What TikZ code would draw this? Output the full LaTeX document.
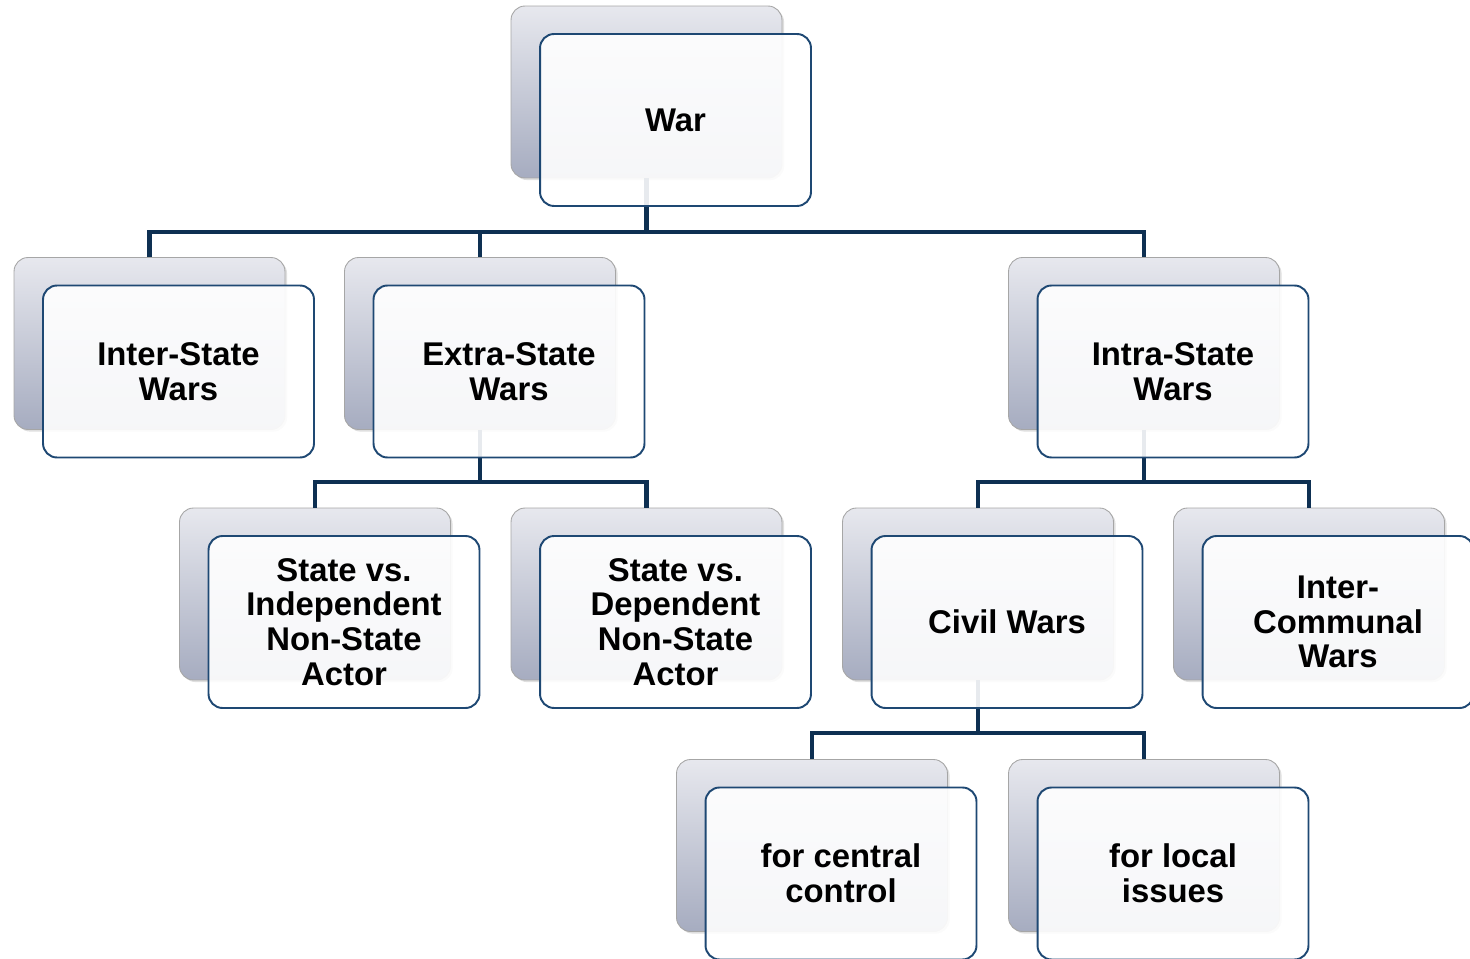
\documentclass[tikz,border=0pt]{standalone}
\usepackage{fontspec}
\setmainfont{Liberation Sans}
\usetikzlibrary{shadows}

\definecolor{navy}{RGB}{14,48,82}
\definecolor{cardedge}{RGB}{30,72,115}
\definecolor{cardtop}{RGB}{231,232,238}
\definecolor{cardbot}{RGB}{166,172,192}

\tikzset{
  backcard/.style={rectangle, rounded corners=0.28cm, minimum width=5.42cm,
    minimum height=3.44cm, draw=gray!70, line width=0.5pt,
    top color=cardtop, bottom color=cardbot,
    drop shadow={opacity=0.25, shadow xshift=1.2pt, shadow yshift=-1.2pt}},
  frontcard/.style={rectangle, rounded corners=0.28cm, minimum width=5.42cm,
    minimum height=3.44cm, draw=cardedge, line width=1.1pt,
    fill=white, fill opacity=0.9, text opacity=1, align=center,
    font=\fontsize{18.7}{19.8}\selectfont\bfseries},
  conn/.style={draw=navy, line width=2.4pt}
}

\begin{document}
\begin{tikzpicture}[x=0.02cm, y=-0.02cm]
 \useasboundingbox (0,0) rectangle (1470,959);
 % back cards
 \foreach \n/\x/\y in {war/646.5/92, inter/149.5/343.5, extra/480/343.5,
     intra/1144/343.5, stateInd/315/594, stateDep/646.5/594, civil/978/594,
     comm/1309/594, central/812/845.5, local/1144/845.5}
   \node[backcard] (\n B) at (\x,\y) {};

 % connectors
 \draw[conn] (warB.south) -- ++(0,53.5) coordinate (j1);
 \draw[conn] (interB.north) |- (j1) -| (intraB.north);
 \draw[conn] (extraB.north |- j1) -- (extraB.north);

 \draw[conn] (extraB.south) -- ++(0,52) coordinate (j2);
 \draw[conn] (stateIndB.north) |- (j2) -| (stateDepB.north);

 \draw[conn] (intraB.south) -- ++(0,52) coordinate (j3);
 \draw[conn] (civilB.north) |- (j3) -| (commB.north);

 \draw[conn] (civilB.south) -- ++(0,52.5) coordinate (j4);
 \draw[conn] (centralB.north) |- (j4) -| (localB.north);

 % front cards
 \node[frontcard] (war) at ([shift={(29,28)}]warB) {War};
 \node[frontcard] (inter) at ([shift={(29,28)}]interB) {Inter-State\\Wars};
 \node[frontcard] (extra) at ([shift={(29,28)}]extraB) {Extra-State\\Wars};
 \node[frontcard] (intra) at ([shift={(29,28)}]intraB) {Intra-State\\Wars};
 \node[frontcard] (stateInd) at ([shift={(29,28)}]stateIndB) {State vs.\\Independent\\Non-State\\Actor};
 \node[frontcard] (stateDep) at ([shift={(29,28)}]stateDepB) {State vs.\\Dependent\\Non-State\\Actor};
 \node[frontcard] (civil) at ([shift={(29,28)}]civilB) {Civil Wars};
 \node[frontcard] (comm) at ([shift={(29,28)}]commB) {Inter-\\Communal\\Wars};
 \node[frontcard] (central) at ([shift={(29,28)}]centralB) {for central\\control};
 \node[frontcard] (local) at ([shift={(29,28)}]localB) {for local\\issues};
\end{tikzpicture}
\end{document}
